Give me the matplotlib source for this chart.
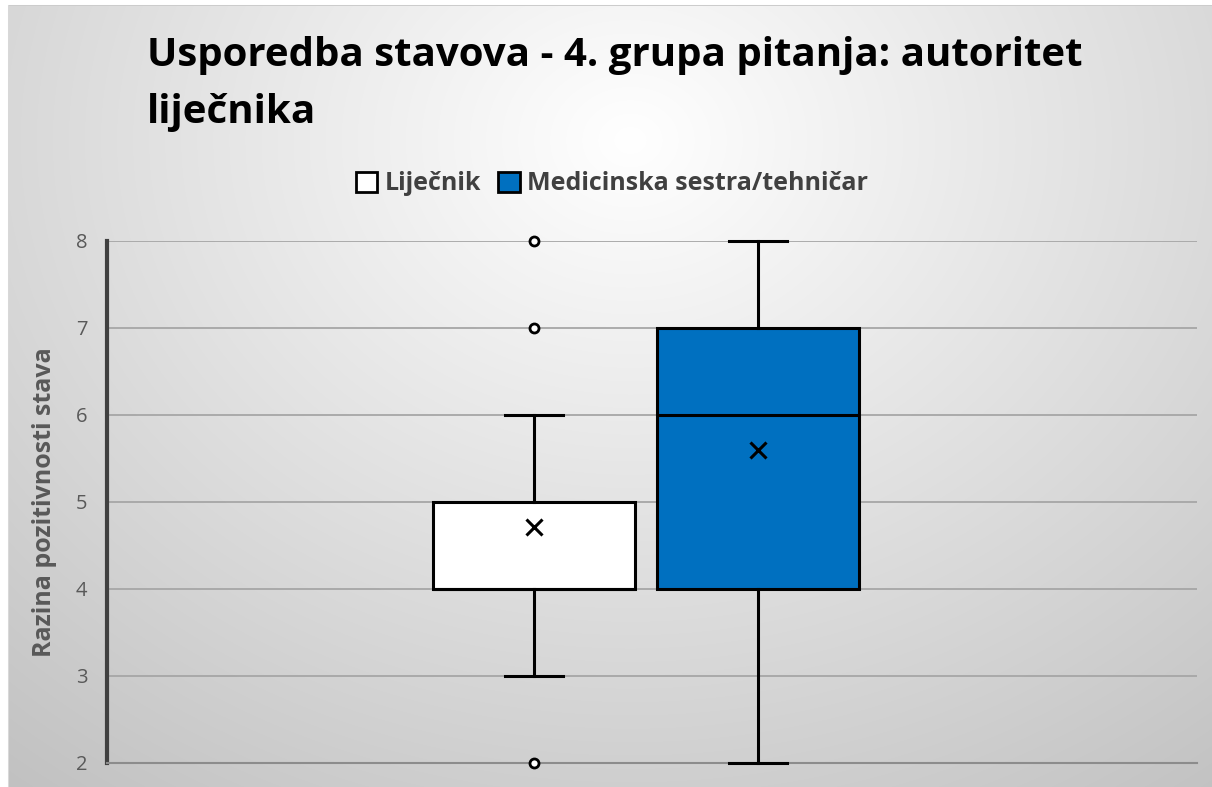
import numpy as np
import matplotlib.pyplot as plt
from matplotlib.patches import Patch

# --- data ---
groups = ['Liječnik', 'Medicinska sestra/tehničar']
q1 = [4, 4]
medians = [4, 6]
q3 = [5, 7]
whisker_low = [3, 2]
whisker_high = [6, 8]
means = [4.71, 5.6]
outliers = [[8, 7, 2], []]
box_colors = ['#ffffff', '#0070c0']
y_ticks = [2, 3, 4, 5, 6, 7, 8]

title = 'Usporedba stavova - 4. grupa pitanja: autoritet\nliječnika'
y_label = 'Razina pozitivnosti stava'

plt.rcParams['font.family'] = ['Open Sans', 'DejaVu Sans']

fig = plt.figure(figsize=(12.12, 7.87), dpi=100)

# radial gradient background (Excel style)
bg = fig.add_axes([0, 0, 1, 1], zorder=-10)
h, w = 787, 1212
yy, xx = np.mgrid[0:h, 0:w]
r = np.sqrt(((xx - 630) / 900.0) ** 2 + ((yy - 140) / 750.0) ** 2)
shade = np.clip(1.0 - 0.22 * r, 0.76, 1.0)
img = np.dstack([shade, shade, shade])
img[:6, :, :] = 1.0
img[:, :8, :] = 1.0
img[5, 8:, :] = 0.8
img[5:, 8, :] = 0.85
bg.imshow(img, aspect='auto', interpolation='bilinear')
bg.axis('off')

ax = fig.add_axes([0.0883, 0.0305, 0.8993, 0.6633])
ax.set_facecolor('none')

stats = []
for i in range(len(groups)):
    stats.append({
        'label': groups[i],
        'q1': q1[i], 'med': medians[i], 'q3': q3[i],
        'whislo': whisker_low[i], 'whishi': whisker_high[i],
        'mean': means[i], 'fliers': outliers[i],
    })

positions = [0.3917, 0.597]
bp = ax.bxp(stats, positions=positions, widths=0.185, capwidths=0.053,
            patch_artist=True, showmeans=True,
            boxprops=dict(edgecolor='black', linewidth=2.2),
            medianprops=dict(color='black', linewidth=2.2),
            whiskerprops=dict(color='black', linewidth=2.2),
            capprops=dict(color='black', linewidth=2.2),
            meanprops=dict(marker='x', markeredgecolor='black', markersize=11,
                           markeredgewidth=2.2),
            flierprops=dict(marker='o', markerfacecolor='white', markeredgecolor='black',
                            markersize=6.5, markeredgewidth=2))
for patch, c in zip(bp['boxes'], box_colors):
    patch.set_facecolor(c)
for artist_list in bp.values():
    for a in artist_list:
        a.set_zorder(3)
        a.set_clip_on(False)

ax.set_xlim(0, 1)
ax.set_ylim(2, 8)
ax.set_yticks(y_ticks)
ax.set_xticks([])
ax.yaxis.grid(True, color='#a6a6a6', linewidth=1.3)
ax.set_axisbelow(True)
for s in ['top', 'right']:
    ax.spines[s].set_visible(False)
ax.spines['left'].set_color('#404040')
ax.spines['left'].set_linewidth(3)
ax.spines['bottom'].set_color('#8c8c8c')
ax.spines['bottom'].set_linewidth(1.5)
ax.tick_params(axis='y', length=0, pad=14, labelsize=14.5, labelcolor='#595959')
ax.set_ylabel(y_label, fontsize=18, fontweight='bold', color='#595959', labelpad=14)

fig.text(147 / 1212, 1 - 36 / 787, title, fontsize=29, fontweight='bold',
         color='black', ha='left', va='top', linespacing=1.6)

handles = [Patch(facecolor=c, edgecolor='black', linewidth=2) for c in box_colors]
leg = fig.legend(handles, groups, loc='center', bbox_to_anchor=(612 / 1212, 1 - 184 / 787),
                 ncol=2, frameon=False, handlelength=0.85, handleheight=0.85,
                 handletextpad=0.3, columnspacing=0.7,
                 prop={'size': 18, 'weight': 'bold'})
for t in leg.get_texts():
    t.set_color('#404040')

fig.savefig('out.png', dpi=100)
